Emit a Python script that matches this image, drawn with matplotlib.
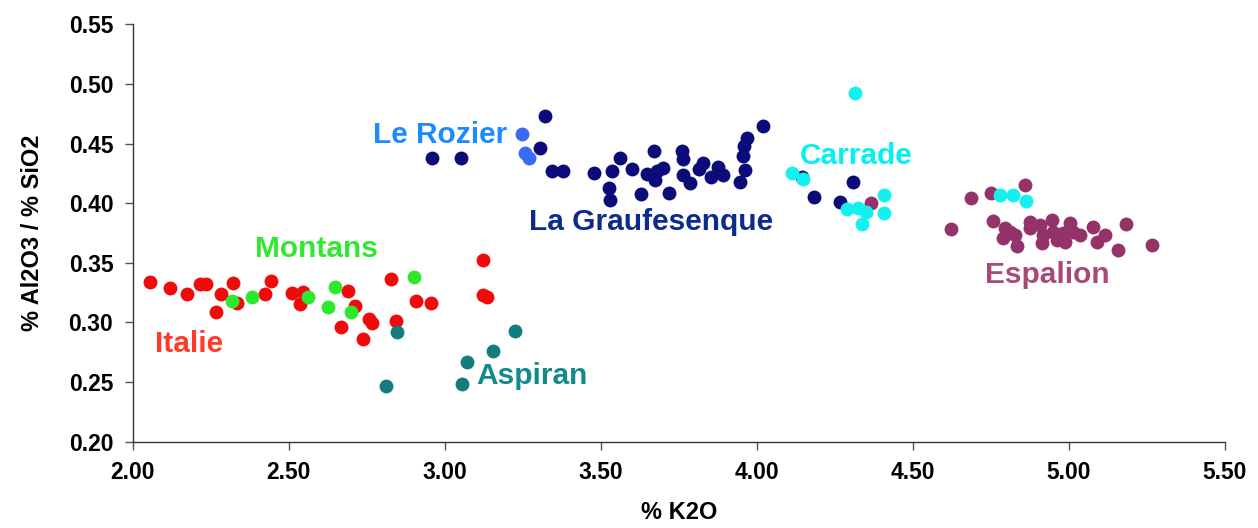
import matplotlib
matplotlib.use("Agg")
import matplotlib.pyplot as plt

plt.rcParams['font.family'] = ['Liberation Sans', 'DejaVu Sans']

# ---- data ----
italie_x = [2.055, 2.120, 2.173, 2.216, 2.235, 2.282, 2.321, 2.266, 2.335, 2.424, 2.443, 2.510,
            2.547, 2.536, 2.691, 2.713, 2.668, 2.758, 2.766, 2.737, 2.828, 2.843, 2.908, 2.955,
            3.124, 3.122, 3.137]
italie_y = [0.3336, 0.3286, 0.3238, 0.3319, 0.3319, 0.3238, 0.3333, 0.3089, 0.3165, 0.3238, 0.3345, 0.3244,
            0.3257, 0.3152, 0.3266, 0.3140, 0.2964, 0.3028, 0.2992, 0.2860, 0.3366, 0.3009, 0.3179, 0.3165,
            0.3523, 0.3230, 0.3210]

montans_x = [2.317, 2.381, 2.563, 2.648, 2.627, 2.700, 2.903]
montans_y = [0.3179, 0.3215, 0.3210, 0.3299, 0.3126, 0.3084, 0.3383]

aspiran_x = [2.846, 2.811, 3.054, 3.071, 3.156, 3.225]
aspiran_y = [0.2919, 0.2470, 0.2483, 0.2665, 0.2760, 0.2930]

rozier_x = [3.249, 3.257, 3.270]
rozier_y = [0.4578, 0.4424, 0.4377]

graufesenque_x = [2.958, 3.051, 3.321, 3.307, 3.343, 3.380, 3.479, 3.537, 3.562, 3.528, 3.530, 3.601,
                  3.629, 3.672, 3.647, 3.679, 3.701, 3.674, 3.720, 3.760, 3.763, 3.763, 3.786, 3.816,
                  3.829, 3.854, 3.877, 3.893, 3.946, 3.962, 3.957, 3.960, 3.968, 4.021, 4.144, 4.310,
                  4.184, 4.267]
graufesenque_y = [0.4380, 0.4380, 0.4735, 0.4466, 0.4273, 0.4270, 0.4251, 0.4273, 0.4380, 0.4125, 0.4027, 0.4285,
                  0.4077, 0.4441, 0.4245, 0.4273, 0.4293, 0.4195, 0.4088, 0.4441, 0.4371, 0.4237, 0.4167, 0.4285,
                  0.4335, 0.4223, 0.4301, 0.4237, 0.4181, 0.4279, 0.4396, 0.4480, 0.4545, 0.4651, 0.4218, 0.4176,
                  0.4050, 0.4013]

carrade_x = [4.315, 4.112, 4.147, 4.409, 4.290, 4.326, 4.350, 4.408, 4.338, 4.780, 4.822, 4.862]
carrade_y = [0.4928, 0.4251, 0.4201, 0.4069, 0.3949, 0.3957, 0.3929, 0.3915, 0.3823, 0.4069, 0.4069, 0.4021]

espalion_x = [4.366, 4.622, 4.860, 4.686, 4.750, 4.756, 4.796, 4.812, 4.828, 4.790, 4.833, 4.876,
              4.876, 4.908, 4.919, 4.913, 4.946, 4.951, 4.962, 4.983, 4.988, 5.004, 5.015, 5.036,
              5.079, 5.090, 5.116, 5.159, 5.184, 5.268]
espalion_y = [0.4004, 0.3781, 0.4153, 0.4046, 0.4083, 0.3851, 0.3790, 0.3761, 0.3733, 0.3706, 0.3641, 0.3845,
              0.3790, 0.3817, 0.3733, 0.3664, 0.3859, 0.3761, 0.3691, 0.3748, 0.3677, 0.3836, 0.3761, 0.3733,
              0.3803, 0.3677, 0.3733, 0.3607, 0.3823, 0.3649]

x_ticks = [2.0, 2.5, 3.0, 3.5, 4.0, 4.5, 5.0, 5.5]
y_ticks = [0.20, 0.25, 0.30, 0.35, 0.40, 0.45, 0.50, 0.55]

fig = plt.figure(figsize=(12.58, 5.28), dpi=100)
ax = fig.add_axes([0.1055, 0.1638, 0.868, 0.7898])

ms = 100
ax.scatter(italie_x, italie_y, s=ms, color='#f00a0a', linewidths=0, zorder=3)
ax.scatter(montans_x, montans_y, s=ms, color='#2ee82e', linewidths=0, zorder=4)
ax.scatter(aspiran_x, aspiran_y, s=ms, color='#137d7d', linewidths=0, zorder=3)
ax.scatter(graufesenque_x, graufesenque_y, s=ms, color='#0b0b7a', linewidths=0, zorder=3)
ax.scatter(rozier_x, rozier_y, s=ms, color='#3a6af0', linewidths=0, zorder=4)
ax.scatter(espalion_x, espalion_y, s=ms, color='#94336a', linewidths=0, zorder=3)
ax.scatter(carrade_x, carrade_y, s=ms, color='#14f0f0', linewidths=0, zorder=4)

lab = dict(fontsize=21.5, fontweight='bold', ha='center', va='center', zorder=5)
ax.text(2.18, 0.2817, 'Italie', color='#ff3a28', **lab)
ax.text(2.59, 0.3616, 'Montans', color='#30e830', **lab)
ax.text(3.28, 0.2547, 'Aspiran', color='#138a8a', **lab)
ax.text(2.985, 0.4576, 'Le Rozier', color='#1a8cff', **lab)
ax.text(3.66, 0.384, 'La Graufesenque', color='#0d2b8f', **lab)
ax.text(4.32, 0.440, 'Carrade', color='#00f2f2', **lab)
ax.text(4.93, 0.340, 'Espalion', color='#a84a78', **lab)

ax.set_xlim(2.0, 5.5)
ax.set_ylim(0.20, 0.55)
ax.set_xticks(x_ticks)
ax.set_yticks(y_ticks)
ax.set_xticklabels([f"{v:.2f}" for v in x_ticks])
ax.set_yticklabels([f"{v:.2f}" for v in y_ticks])
for s in ['top', 'right']:
    ax.spines[s].set_visible(False)
for s in ['left', 'bottom']:
    ax.spines[s].set_color('#333333')
    ax.spines[s].set_linewidth(1.0)
ax.tick_params(axis='both', direction='out', length=6, width=1, color='#555555',
               labelsize=16.5, pad=8)
for t in ax.get_xticklabels() + ax.get_yticklabels():
    t.set_fontweight('bold')
ax.set_xlabel('% K2O', fontsize=17, fontweight='bold', labelpad=12)
ax.set_ylabel('% Al2O3 / % SiO2', fontsize=17, fontweight='bold', labelpad=18)

fig.savefig('out.png', dpi=100)
